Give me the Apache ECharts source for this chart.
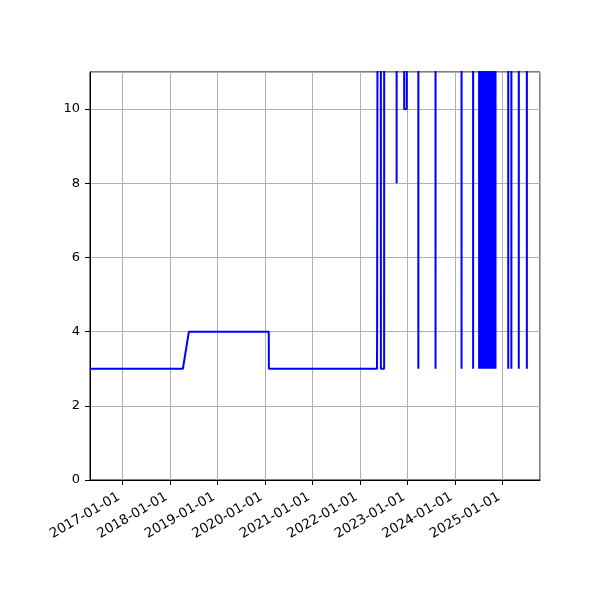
<!DOCTYPE html>
<html>
<head>
<meta charset="utf-8">
<script src="https://cdn.jsdelivr.net/npm/echarts@6/dist/echarts.min.js"></script>
<style>
html,body{margin:0;padding:0;background:#fff;}
#chart{width:600px;height:600px;}
</style>
</head>
<body>
<div id="chart"></div>
<script>
// Axis range
const xRange = ['2016-04-27', '2025-10-16'];
const yRange = [0, 11];
const yTickStep = 2;

// Early regime: slow steps between 3 and 4
const earlyDates  = ['2016-04-27','2018-04-11','2018-05-27','2020-01-31','2020-02-01','2022-05-12','2022-05-13','2022-05-21'];
const earlyValues = [3, 3, 4, 4, 3, 3, 4, 4];

// Late regime: mostly off-scale (above 11) with dips
const lateDates  = ['2022-05-22','2022-06-10','2022-06-11','2022-07-06','2022-07-07',
  '2022-10-09','2022-10-10','2022-10-11','2022-12-06','2022-12-07','2022-12-27','2022-12-28',
  '2023-03-25','2023-03-26','2023-03-27','2023-08-04','2023-08-05','2023-08-06',
  '2024-02-20','2024-02-21','2024-02-22','2024-05-19','2024-05-20','2024-05-21'];
const lateValues = [30, 30, 3, 3, 30,
  30, 8, 30, 30, 10, 10, 30,
  30, 3, 30, 30, 3, 30,
  30, 3, 30, 30, 3, 30];

// Dense burst, summer 2024
const burst1Dates  = ['2024-07-04','2024-07-05','2024-07-07','2024-07-09','2024-07-11','2024-07-13','2024-07-16','2024-07-18',
  '2024-07-20','2024-07-22','2024-07-25','2024-07-27','2024-07-29','2024-07-31','2024-08-02','2024-08-05',
  '2024-08-07','2024-08-09','2024-08-11','2024-08-13','2024-08-15','2024-08-18','2024-08-20','2024-08-22',
  '2024-08-24','2024-08-26','2024-08-28','2024-08-30','2024-08-31'];
const burst1Values = [30, 3, 30, 3, 30, 3, 3, 30,
  3, 30, 3, 30, 3, 30, 3, 30,
  3, 30, 3, 3, 30, 3, 30, 3,
  30, 3, 30, 3, 30];

// Dense burst, autumn 2024
const burst2Dates  = ['2024-09-11','2024-09-12','2024-09-14','2024-09-16','2024-09-18','2024-09-20','2024-09-22','2024-09-24',
  '2024-09-26','2024-09-28','2024-09-30','2024-10-02','2024-10-04','2024-10-07','2024-10-09','2024-10-11',
  '2024-10-13','2024-10-15','2024-10-18','2024-10-20','2024-10-22','2024-10-24','2024-10-27','2024-10-29',
  '2024-10-31','2024-11-02','2024-11-04','2024-11-06','2024-11-08','2024-11-09'];
const burst2Values = [30, 3, 30, 3, 30, 3, 30, 3,
  30, 3, 3, 30, 3, 30, 3, 30,
  3, 30, 3, 30, 3, 30, 3, 30,
  3, 30, 3, 30, 3, 30];

// Isolated dips, 2025
const tailDates  = ['2025-02-13','2025-02-14','2025-02-15','2025-03-09','2025-03-10','2025-03-11',
  '2025-05-05','2025-05-06','2025-05-07','2025-07-06','2025-07-07','2025-07-08'];
const tailValues = [30, 3, 30, 30, 3, 30, 30, 3, 30, 30, 3, 30];

const allDates  = earlyDates.concat(lateDates, burst1Dates, burst2Dates, tailDates);
const allValues = earlyValues.concat(lateValues, burst1Values, burst2Values, tailValues);
const seriesData = allDates.map((d, i) => [d, allValues[i]]);

const chart = echarts.init(document.getElementById('chart'), null, {renderer: 'canvas'});
const FONT = 'DejaVu Sans';
chart.setOption({
  animation: false,
  backgroundColor: '#fff',
  grid: {left: 90, right: 60, top: 72, bottom: 120, show: true, borderColor: '#000', borderWidth: 1, backgroundColor: 'transparent'},
  xAxis: {
    type: 'time',
    min: xRange[0],
    max: xRange[1],
    splitNumber: 9,
    minInterval: 365 * 86400000,
    maxInterval: 366 * 86400000,
    axisLine: {show: true, onZero: false, lineStyle: {color: '#000', width: 1}},
    axisTick: {show: true, length: 5, lineStyle: {color: '#000', width: 1}},
    splitLine: {show: true, lineStyle: {color: '#b0b0b0', width: 1}},
    axisLabel: {
      formatter: '{yyyy}-{MM}-{dd}',
      rotate: 30,
      margin: 14,
      padding: [0, 4, 0, 0],
      color: '#000',
      fontFamily: FONT,
      fontSize: 13.5,
      showMinLabel: false,
      showMaxLabel: false,
      hideOverlap: false
    }
  },
  yAxis: {
    type: 'value',
    min: yRange[0],
    max: yRange[1],
    interval: yTickStep,
    axisLine: {show: true, lineStyle: {color: '#000', width: 1}},
    axisTick: {show: true, length: 5, lineStyle: {color: '#000', width: 1}},
    splitLine: {show: true, lineStyle: {color: '#b0b0b0', width: 1}},
    axisLabel: {color: '#000', fontFamily: FONT, fontSize: 13, margin: 10, showMaxLabel: false}
  },
  series: [{
    type: 'line',
    data: seriesData,
    showSymbol: false,
    symbol: 'none',
    clip: true,
    lineStyle: {color: '#0000ff', width: 2},
    itemStyle: {color: '#0000ff'}
  }]
});
</script>
</body>
</html>
